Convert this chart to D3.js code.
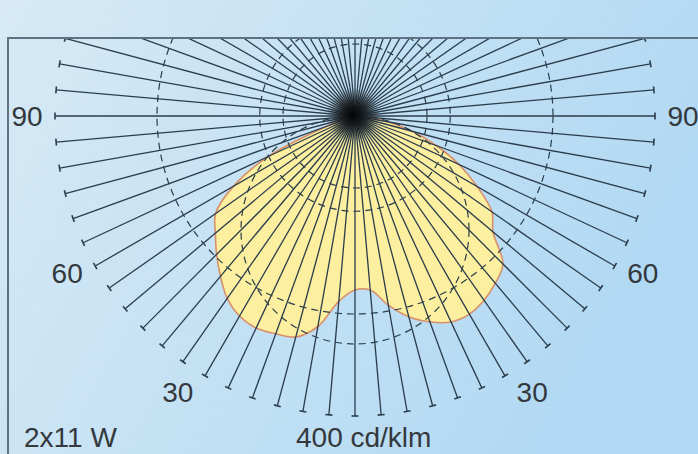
<!DOCTYPE html>
<html><head><meta charset="utf-8">
<script src="https://cdn.jsdelivr.net/npm/d3@7"></script>
<style>html,body{margin:0;padding:0;overflow:hidden;background:#c6e2f4}svg{display:block}</style>
</head><body>
<svg id="c" width="698" height="454"></svg>
<script>
// ---- data ----
const spokeAngles = d3.range(0, 360, 5);            // degrees from nadir
const curveAngles = d3.range(-90, 95, 5);           // -90 = left horizontal, 90 = right horizontal
const leftIntensity  = [4, 5, 8, 13, 40, 128, 187, 227, 243, 261, 279, 297, 308, 312, 309, 305, 285, 248]; // 90..5 deg (left)
const nadirIntensity = [232];                       // 0 deg
const rightIntensity = [233, 256, 277, 292, 303, 305, 300, 291, 279, 240, 223, 188, 153, 115, 79, 44, 19, 7]; // 5..90 deg (right)
const gridCircles = [96, 127, 264];                 // cd/klm, concentric dashed circles
const cosCircles = [304];                           // cd/klm, diameter of circle through the origin
const scaleMax = 400;                               // cd/klm at end of spokes
const angleLabels = [90, 60, 30];
const unitLabel = "400 cd/klm";
const lampLabel = "2x11 W";

// ---- layout ----
const W = 698, H = 454;
const cx = 355, cy = 116, R = 300;
const frameX = 8, frameY = 38;
const intensity = leftIntensity.concat(nadirIntensity, rightIntensity);

const svg = d3.select("#c");
const defs = svg.append("defs");
const bg = defs.append("linearGradient").attr("id", "bg").attr("x1", 0).attr("y1", 0).attr("x2", 1).attr("y2", 0.35);
bg.append("stop").attr("offset", "0%").attr("stop-color", "#d7eaf5");
bg.append("stop").attr("offset", "100%").attr("stop-color", "#b2d9f3");
const blob = defs.append("radialGradient").attr("id", "blob");
blob.append("stop").attr("offset", "0%").attr("stop-color", "#000").attr("stop-opacity", 0.95);
blob.append("stop").attr("offset", "40%").attr("stop-color", "#111").attr("stop-opacity", 0.75);
blob.append("stop").attr("offset", "100%").attr("stop-color", "#222").attr("stop-opacity", 0);
defs.append("clipPath").attr("id", "clip").append("rect")
  .attr("x", frameX).attr("y", frameY).attr("width", W - frameX).attr("height", H - frameY);

svg.append("rect").attr("width", W).attr("height", H).attr("fill", "url(#bg)");

const r = d3.scaleLinear().domain([0, scaleMax]).range([0, R]);
const rad = d => d * Math.PI / 180;
const px = (deg, v) => cx + r(v) * Math.sin(rad(deg));
const py = (deg, v) => cy + r(v) * Math.cos(rad(deg));

const g = svg.append("g").attr("clip-path", "url(#clip)");

// intensity curve
const line = d3.lineRadial()
  .angle((d, i) => Math.PI - rad(curveAngles[i]))
  .radius(d => r(d))
  .curve(d3.curveCatmullRomClosed.alpha(0.5));
g.append("path")
  .attr("transform", `translate(${cx},${cy})`)
  .attr("d", line(intensity))
  .attr("fill", "#fcef9f")
  .attr("stroke", "#d9906a")
  .attr("stroke-width", 1.6);

// spokes
g.selectAll("line.spoke").data(spokeAngles).join("line")
  .attr("class", "spoke")
  .attr("x1", cx).attr("y1", cy)
  .attr("x2", d => px(d, scaleMax)).attr("y2", d => py(d, scaleMax))
  .attr("stroke", "#2a3d4c").attr("stroke-width", 1.3);
// end ticks
g.selectAll("line.tick").data(spokeAngles).join("line")
  .attr("class", "tick")
  .attr("x1", d => px(d, scaleMax) + 3.5 * Math.cos(rad(d)))
  .attr("y1", d => py(d, scaleMax) - 3.5 * Math.sin(rad(d)))
  .attr("x2", d => px(d, scaleMax) - 3.5 * Math.cos(rad(d)))
  .attr("y2", d => py(d, scaleMax) + 3.5 * Math.sin(rad(d)))
  .attr("stroke", "#2a3d4c").attr("stroke-width", 1.6);

// dashed circles
g.selectAll("circle.grid").data(gridCircles).join("circle")
  .attr("class", "grid")
  .attr("cx", cx).attr("cy", cy).attr("r", d => r(d))
  .attr("fill", "none").attr("stroke", "#2b3d4a").attr("stroke-width", 1.2)
  .attr("stroke-dasharray", "7,5");
g.selectAll("circle.cos").data(cosCircles).join("circle")
  .attr("class", "cos")
  .attr("cx", cx).attr("cy", d => cy + r(d) / 2).attr("r", d => r(d) / 2)
  .attr("fill", "none").attr("stroke", "#2b3d4a").attr("stroke-width", 1.2)
  .attr("stroke-dasharray", "7,5");

// dark centre
g.append("circle").attr("cx", cx - 2).attr("cy", cy - 1).attr("r", 27).attr("fill", "url(#blob)");

// frame
svg.append("path")
  .attr("d", `M${frameX},${H} V${frameY} H${W}`)
  .attr("fill", "none").attr("stroke", "#5d7383").attr("stroke-width", 2);

// labels
const lr = 328;
const labAng = d => d + 2.7 * (90 - d) / 60;
const font = "'Liberation Sans', Arial, sans-serif";
const fs = 28;
[-1, 1].forEach(s => {
  svg.selectAll(null).data(angleLabels).join("text")
    .attr("x", d => cx + s * lr * Math.sin(rad(labAng(d))))
    .attr("y", d => cy + lr * Math.cos(rad(labAng(d))))
    .attr("dy", "0.35em")
    .attr("text-anchor", "middle")
    .attr("font-family", font).attr("font-size", fs).attr("fill", "#34383c")
    .text(d => d);
});
svg.append("text").attr("x", 24).attr("y", 447)
  .attr("font-family", font).attr("font-size", fs).attr("fill", "#34383c").text(lampLabel);
svg.append("text").attr("x", 296).attr("y", 447)
  .attr("font-family", font).attr("font-size", fs).attr("fill", "#34383c").text(unitLabel);
</script>
</body></html>
